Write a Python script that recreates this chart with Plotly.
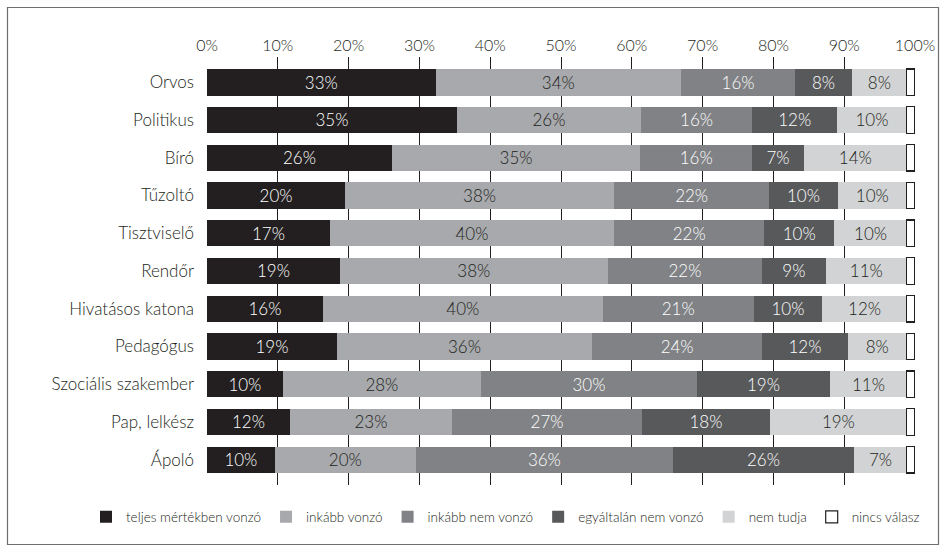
import plotly.graph_objects as go

categories = ["Orvos", "Politikus", "Bíró", "Tűzoltó", "Tisztviselő", "Rendőr",
              "Hivatásos katona", "Pedagógus", "Szociális szakember", "Pap, lelkész", "Ápoló"]

series_names = ["teljes mértékben vonzó", "inkább vonzó", "inkább nem vonzó",
                "egyáltalán nem vonzó", "nem tudja", "nincs válasz"]

teljes = [32.3, 35.3, 26.1, 19.5, 17.35, 18.76, 16.36, 18.33, 10.7, 11.7, 9.57]
inkabb = [34.65, 26.0, 35.1, 38.0, 40.15, 37.84, 39.54, 36.07, 28.0, 22.9, 19.93]
inkabb_nem = [16.1, 15.7, 15.8, 21.9, 21.2, 21.8, 21.3, 24.0, 30.5, 26.85, 36.3]
egyaltalan = [8.05, 12.0, 7.3, 9.7, 9.9, 9.0, 9.7, 12.1, 18.8, 18.05, 25.6]
nem_tudja = [7.75, 9.85, 14.55, 9.75, 10.25, 11.45, 11.95, 8.35, 10.85, 19.35, 7.45]
nincs = [1.15, 1.15, 1.15, 1.15, 1.15, 1.15, 1.15, 1.15, 1.15, 1.15, 1.15]

lbl_teljes = [33, 35, 26, 20, 17, 19, 16, 19, 10, 12, 10]
lbl_inkabb = [34, 26, 35, 38, 40, 38, 40, 36, 28, 23, 20]
lbl_inkabb_nem = [16, 16, 16, 22, 22, 22, 21, 24, 30, 27, 36]
lbl_egyaltalan = [8, 12, 7, 10, 10, 9, 10, 12, 19, 18, 26]
lbl_nem_tudja = [8, 10, 14, 10, 10, 11, 12, 8, 11, 19, 7]

tick_vals = [0, 10, 20, 30, 40, 50, 60, 70, 80, 90, 100]
tick_text = [f"{v}%" for v in tick_vals]

colors = ["#231f20", "#a7a9ac", "#808285", "#58595b", "#d1d3d4", "#ffffff"]
text_colors = ["#ffffff", "#231f20", "#ffffff", "#ffffff", "#231f20", "#231f20"]

all_vals = [teljes, inkabb, inkabb_nem, egyaltalan, nem_tudja, nincs]
all_lbls = [lbl_teljes, lbl_inkabb, lbl_inkabb_nem, lbl_egyaltalan, lbl_nem_tudja, None]

FONT = "Lato"
WEIGHT = 300

fig = go.Figure()
for name, vals, lbls, col, tcol in zip(series_names, all_vals, all_lbls, colors, text_colors):
    is_white = col == "#ffffff"
    fig.add_trace(go.Bar(
        name=name,
        y=categories,
        x=vals,
        orientation="h",
        marker=dict(color=col,
                    line=dict(color="#231f20" if is_white else "#58595b",
                              width=1.2 if is_white else 0)),
        text=None if lbls is None else [f"{v}%" for v in lbls],
        textposition="inside" if lbls is not None else "none",
        insidetextanchor="middle",
        textfont=dict(family=FONT, size=17.5, color=tcol, weight=WEIGHT),
        hoverinfo="skip",
    ))

W, H = 946, 552
L, R, T, B = 207, W - 915, 57, H - 485

def px2paper_x(px):
    return (px - L) / (W - L - R)

def px2paper_y(py):
    return (H - B - py) / (H - T - B)

fig.update_layout(
    width=W, height=H,
    barmode="stack",
    bargap=0.30,
    margin=dict(l=L, r=R, t=T, b=B, pad=0, autoexpand=False),
    paper_bgcolor="white",
    plot_bgcolor="white",
    font=dict(family=FONT, color="#231f20", weight=WEIGHT),
    uniformtext=dict(minsize=17, mode="show"),
    showlegend=True,
    legend=dict(
        orientation="h",
        x=px2paper_x(86), xanchor="left",
        y=px2paper_y(517), yanchor="middle",
        font=dict(family=FONT, size=13.5, color="#231f20", weight=WEIGHT),
        itemwidth=30,
        traceorder="normal",
        bgcolor="rgba(0,0,0,0)",
    ),
    xaxis=dict(
        side="top",
        range=[0, 100],
        tickvals=tick_vals,
        ticktext=tick_text,
        showgrid=True,
        gridcolor="#231f20",
        gridwidth=1,
        zeroline=False,
        showline=False,
        ticks="",
        tickfont=dict(family=FONT, size=16, color="#231f20", weight=WEIGHT),
        ticklabelstandoff=2,
        fixedrange=True,
    ),
    yaxis=dict(
        categoryorder="array",
        categoryarray=categories,
        autorange=False,
        range=[10.67, -0.67],
        showgrid=False,
        zeroline=False,
        showline=False,
        ticks="",
        tickfont=dict(family=FONT, size=17, color="#231f20", weight=WEIGHT),
        ticklabelstandoff=12,
        fixedrange=True,
    ),
    shapes=[dict(
        type="rect", xref="paper", yref="paper",
        x0=px2paper_x(7.5), x1=px2paper_x(938.5),
        y0=px2paper_y(544.5), y1=px2paper_y(7.5),
        line=dict(color="#6d6e71", width=1.2),
        fillcolor="rgba(0,0,0,0)",
        layer="below",
    )],
)

fig.write_html(
    "out.html",
    config={"displayModeBar": False},
    post_script="document.body.style.margin='0';document.body.style.overflow='hidden';",
)
